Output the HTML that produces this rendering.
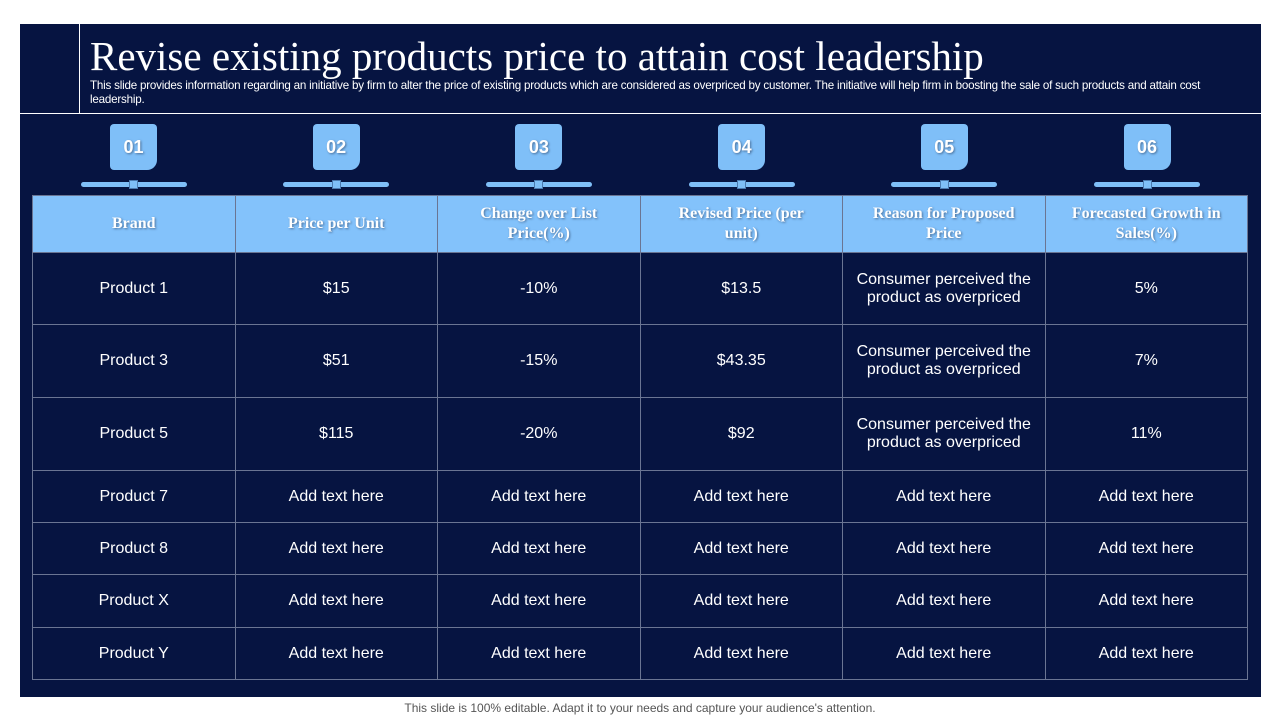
<!DOCTYPE html>
<html><head><meta charset="utf-8"><style>
body{margin:0;width:1280px;height:720px;background:#fff;position:relative;font-family:"Liberation Sans",sans-serif;overflow:hidden}
#slide{position:absolute;left:20px;top:24px;width:1241px;height:673px;background:#061441}
.abs{position:absolute}
h1{position:absolute;left:70px;top:8px;margin:0;font-family:"Liberation Serif",serif;font-weight:normal;color:#fff;font-size:41px;white-space:nowrap}
.sub{left:70px;top:55px;width:1145px;color:#fff;font-size:11.6px;line-height:14px;letter-spacing:-0.2px}
.badge{width:47px;height:46px;background:#7fbff8;border-radius:4px 4px 10px 4px;color:#fff;font-weight:bold;font-size:18px;text-align:center;line-height:46px;text-shadow:1px 1px 2px #4a6f99}
.bar{height:5px;background:#7fbff8;border-radius:3px}
.knob{width:9px;height:9px;background:#7fbff8;border:1px solid #4b7ab0;box-sizing:border-box}
table{position:absolute;left:12px;top:171px;width:1216px;border-collapse:collapse;table-layout:fixed}
td,th{border:1px solid #6a7593;color:#fff;text-align:center;font-size:16px;padding:0 8px}
th{background:#83c2fb;font-family:"Liberation Serif",serif;font-weight:bold;font-size:16px;height:55px;line-height:20px;text-shadow:1px 1px 2px #4a6f99;padding:0 24px}
.foot{left:0;top:701px;width:1280px;text-align:center;color:#555;font-size:12px}
</style></head><body>
<div id="slide">
<div class="abs" style="left:59px;top:0;width:1px;height:89px;background:#fff"></div>
<div class="abs" style="left:0;top:89px;width:1241px;height:1px;background:#fff"></div>
<h1>Revise existing products price to attain cost leadership</h1>
<div class="abs sub">This slide provides information regarding an initiative by firm to alter the price of existing products which are considered as overpriced by customer. The initiative will help firm in boosting the sale of such products and attain cost leadership.</div>
<div id="badges"></div>
<table>
<tr style="height:57px"><th>Brand</th><th>Price per Unit</th><th>Change over List Price(%)</th><th>Revised Price (per unit)</th><th>Reason for Proposed Price</th><th>Forecasted Growth in Sales(%)</th></tr>
<tr style="height:72px"><td>Product 1</td><td>$15</td><td>-10%</td><td>$13.5</td><td>Consumer perceived the product as overpriced</td><td>5%</td></tr>
<tr style="height:73px"><td>Product 3</td><td>$51</td><td>-15%</td><td>$43.35</td><td>Consumer perceived the product as overpriced</td><td>7%</td></tr>
<tr style="height:73px"><td>Product 5</td><td>$115</td><td>-20%</td><td>$92</td><td>Consumer perceived the product as overpriced</td><td>11%</td></tr>
<tr style="height:52px"><td>Product 7</td><td>Add text here</td><td>Add text here</td><td>Add text here</td><td>Add text here</td><td>Add text here</td></tr>
<tr style="height:52px"><td>Product 8</td><td>Add text here</td><td>Add text here</td><td>Add text here</td><td>Add text here</td><td>Add text here</td></tr>
<tr style="height:53px"><td>Product X</td><td>Add text here</td><td>Add text here</td><td>Add text here</td><td>Add text here</td><td>Add text here</td></tr>
<tr style="height:52px"><td>Product Y</td><td>Add text here</td><td>Add text here</td><td>Add text here</td><td>Add text here</td><td>Add text here</td></tr>
</table>
</div>
<div class="abs foot">This slide is 100% editable. Adapt it to your needs and capture your audience's attention.</div>
<script>
const labels=["01","02","03","04","05","06"];
const host=document.getElementById('badges');
labels.forEach((l,i)=>{
  const cx=113.5+i*202.7;
  const b=document.createElement('div');
  
  
  b.className='abs badge';b.style.left=(cx-23.5)+'px';b.style.top='100px';b.textContent=l;host.appendChild(b);
  const bar=document.createElement('div');
  
  
  bar.className='abs bar';bar.style.left=(cx-53)+'px';bar.style.top='158px';bar.style.width='106px';host.appendChild(bar);
  const k=document.createElement('div');
  
  
  k.className='abs knob';k.style.left=(cx-4.5)+'px';k.style.top='156px';host.appendChild(k);
});
</script>
</body></html>
